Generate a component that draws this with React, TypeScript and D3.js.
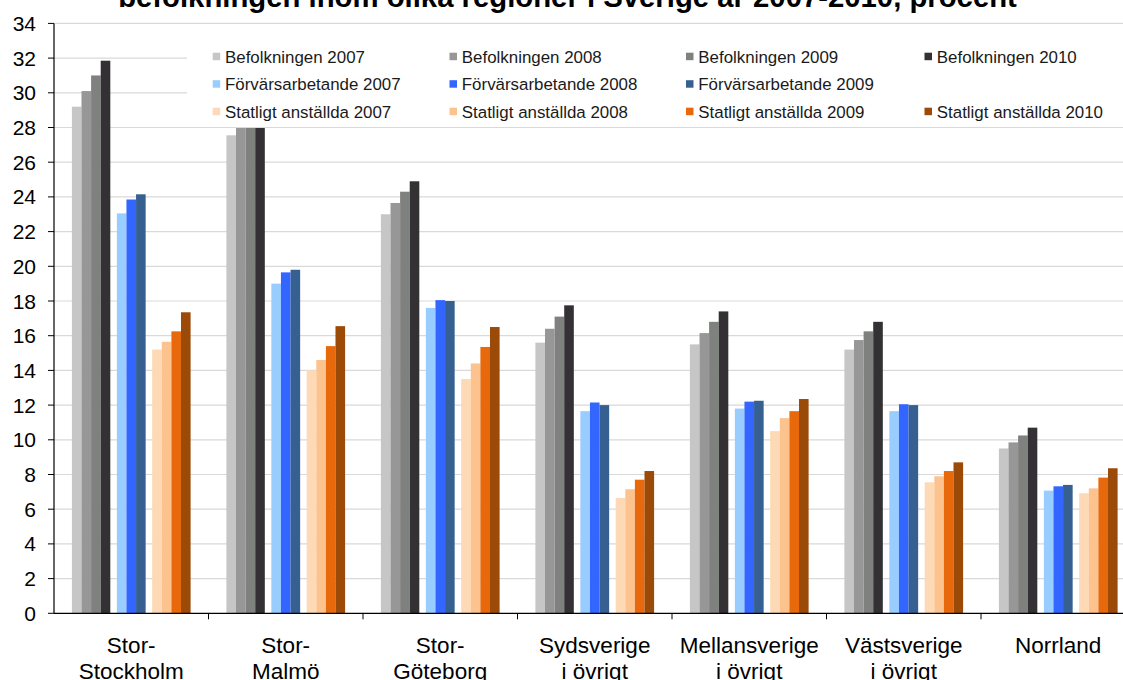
import React from 'react';
import * as d3 from 'd3';

// regions
const categories = [
    'Stor-Stockholm',
    'Stor-Malmö',
    'Stor-Göteborg',
    'Sydsverige i övrigt',
    'Mellansverige i övrigt',
    'Västsverige i övrigt',
    'Norrland',
];
const categoryLines = [
    ['Stor-', 'Stockholm'],
    ['Stor-', 'Malmö'],
    ['Stor-', 'Göteborg'],
    ['Sydsverige', 'i övrigt'],
    ['Mellansverige', 'i övrigt'],
    ['Västsverige', 'i övrigt'],
    ['Norrland'],
];

// values, percent
const befolkningen2007 = [29.2, 27.55, 23.0, 15.6, 15.5, 15.2, 9.5];
const befolkningen2008 = [30.1, 28.4, 23.65, 16.4, 16.15, 15.75, 9.85];
const befolkningen2009 = [31.0, 29.2, 24.3, 17.1, 16.8, 16.25, 10.25];
const befolkningen2010 = [31.85, 30.0, 24.9, 17.75, 17.4, 16.8, 10.7];
const forvarsarbetande2007 = [23.05, 19.0, 17.6, 11.65, 11.8, 11.65, 7.07];
const forvarsarbetande2008 = [23.85, 19.65, 18.05, 12.15, 12.2, 12.05, 7.32];
const forvarsarbetande2009 = [24.15, 19.8, 18.0, 12.0, 12.25, 12.0, 7.4];
const statligt2007 = [15.2, 14.0, 13.5, 6.65, 10.5, 7.55, 6.92];
const statligt2008 = [15.65, 14.6, 14.4, 7.15, 11.25, 7.9, 7.2];
const statligt2009 = [16.25, 15.4, 15.35, 7.7, 11.65, 8.2, 7.82];
const statligt2010 = [17.35, 16.55, 16.5, 8.2, 12.35, 8.7, 8.36];

const yTicks = d3.range(0, 35, 2);

const series = [
    { name: 'Befolkningen 2007', values: befolkningen2007, color: '#C6C6C6', group: 0 },
    { name: 'Befolkningen 2008', values: befolkningen2008, color: '#979797', group: 0 },
    { name: 'Befolkningen 2009', values: befolkningen2009, color: '#7F817E', group: 0 },
    { name: 'Befolkningen 2010', values: befolkningen2010, color: '#333133', group: 0 },
    { name: 'Förvärsarbetande 2007', values: forvarsarbetande2007, color: '#99CCFF', group: 1 },
    { name: 'Förvärsarbetande 2008', values: forvarsarbetande2008, color: '#3366FF', group: 1 },
    { name: 'Förvärsarbetande 2009', values: forvarsarbetande2009, color: '#376092', group: 1 },
    { name: 'Statligt anställda 2007', values: statligt2007, color: '#FDD9B5', group: 2 },
    { name: 'Statligt anställda 2008', values: statligt2008, color: '#FDC38F', group: 2 },
    { name: 'Statligt anställda 2009', values: statligt2009, color: '#E8690B', group: 2 },
    { name: 'Statligt anställda 2010', values: statligt2010, color: '#9B4A07', group: 2 },
];

// legend slots (row, col); row 2 col 4 stays empty
const legendSlots = [
    [0, 0], [0, 1], [0, 2], [0, 3],
    [1, 0], [1, 1], [1, 2],
    [2, 0], [2, 1], [2, 2], [2, 3],
];

const App: React.FC = () => {
    const width = 1123;
    const height = 680;
    const margin = { top: 23.4, left: 54, bottom: 66.7 };
    const catWidth = 154.5;
    const font = '"Liberation Sans", Arial, sans-serif';

    const x = d3
        .scaleBand<string>()
        .domain(categories)
        .range([margin.left, margin.left + catWidth * categories.length])
        .padding(0);

    const y = d3
        .scaleLinear()
        .domain([0, 34])
        .range([height - margin.bottom, margin.top]);

    // bar slots inside a category, with a small gap between the three groups
    const gap = 0.68;
    const span = series.length + 2 * gap;
    const inner = d3
        .scaleLinear()
        .domain([0, span])
        .range([17.9, catWidth - 17.9]);
    const barW = inner(1) - inner(0);

    const legendColX = [212.7, 449.5, 686, 924.5];
    const legendRowY = [56.5, 84, 111.5];

    return (
        <svg
            width={width}
            height={height}
            style={{ position: 'absolute', left: 0, top: 0, background: '#fff' }}
            fontFamily={font}
        >
            <text x={567.5} y={7} textAnchor="middle" fontSize={29.3} fontWeight="bold" fill="#000">
                befolkningen inom olika regioner i Sverige år 2007-2010, procent
            </text>

            {/* gridlines */}
            {yTicks.filter(t => t > 0).map(t => (
                <line key={t} x1={margin.left} x2={width} y1={y(t)} y2={y(t)} stroke="#D9D9D9" strokeWidth={1.2} />
            ))}

            {/* bars */}
            {series.map((s, i) => (
                <g key={s.name}>
                    {s.values.map((v, j) => (
                        <rect
                            key={j}
                            x={(x(categories[j]) ?? 0) + inner(i + s.group * gap)}
                            y={y(v)}
                            width={barW}
                            height={y(0) - y(v)}
                            fill={s.color}
                        />
                    ))}
                </g>
            ))}

            {/* legend */}
            <rect x={187} y={30} width={1000} height={97} fill="#fff" />
            {series.map((s, i) => {
                const [r, c] = legendSlots[i];
                return (
                    <g key={s.name} transform={`translate(${legendColX[c]},${legendRowY[r]})`}>
                        <rect x={0} y={-3.8} width={7.5} height={7.5} fill={s.color} />
                        <text x={12.3} y={6} fontSize={16.9} fill="#1a1a1a">
                            {s.name}
                        </text>
                    </g>
                );
            })}
            <line x1={187} x2={width} y1={y(28)} y2={y(28)} stroke="#D9D9D9" strokeWidth={1.2} />

            {/* y axis */}
            <line x1={margin.left} x2={margin.left} y1={y(34)} y2={y(0)} stroke="#000" strokeWidth={1.2} />
            {yTicks.map(t => (
                <g key={t}>
                    <line x1={margin.left - 6} x2={margin.left} y1={y(t)} y2={y(t)} stroke="#000" />
                    <text x={36} y={y(t) + 7.5} textAnchor="end" fontSize={21} fill="#000">
                        {t}
                    </text>
                </g>
            ))}

            {/* x axis */}
            <line x1={margin.left} x2={width} y1={y(0)} y2={y(0)} stroke="#000" strokeWidth={1.2} />
            {categories.map(c => (
                <line
                    key={c}
                    x1={(x(c) ?? 0) + catWidth}
                    x2={(x(c) ?? 0) + catWidth}
                    y1={y(0)}
                    y2={y(0) + 6}
                    stroke="#000"
                />
            ))}
            {categories.map((c, j) => (
                <text key={c} textAnchor="middle" fontSize={22.5} fill="#000">
                    {categoryLines[j].map((line, k) => (
                        <tspan key={k} x={(x(c) ?? 0) + catWidth / 2} y={653 + k * 25.5}>
                            {line}
                        </tspan>
                    ))}
                </text>
            ))}
        </svg>
    );
};

export default App;
